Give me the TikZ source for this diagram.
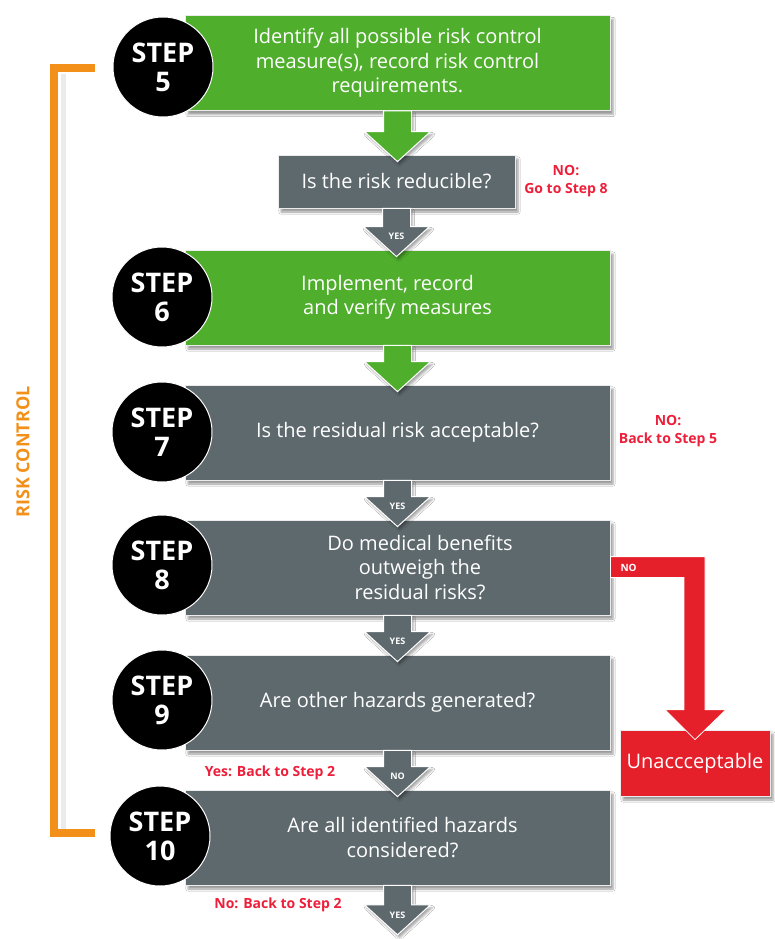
\documentclass[tikz,border=0pt]{standalone}
\usepackage{fontspec}
\setmainfont{Open Sans}
\usetikzlibrary{calc,shadows.blur}
\definecolor{stepgreen}{HTML}{4FAF2C}
\definecolor{stepgrey}{HTML}{5E696E}
\definecolor{alertred}{HTML}{E6202A}
\definecolor{rcorange}{HTML}{F39019}
\definecolor{notered}{HTML}{EE1F3B}
\newcommand{\flowarr}[4]{%
  \coordinate (T) at ($(#1.south |- #2.north)+(0,7)$);
  \filldraw[fill=#3, draw=white, line width=1pt, line join=miter,
    blur shadow={shadow xshift=2pt, shadow yshift=-3pt, shadow opacity=35}]
    ($(#1.south)+(-14,0)$) -- ($(T)+(-14,-30)$) -- ($(T)+(-33,-30)$) -- (T)
    -- ($(T)+(33,-30)$) -- ($(T)+(14,-30)$) -- ($(#1.south)+(14,0)$) -- cycle;
  \node[arrlabel] at ($(T)+(0,-20)$) {#4};
}
\begin{document}
\begin{tikzpicture}[x=1pt,y=-1pt,
  stepbox/.style={rectangle, minimum width=425, minimum height=95, text=white,
    align=center, font=\fontsize{20}{24.5}\selectfont, draw=white!85!gray, line width=0.8pt,
    blur shadow={shadow xshift=3pt, shadow yshift=-4pt, shadow opacity=40}},
  boxtext/.style={text=white, align=center, font=\fontsize{20}{24.5}\selectfont},
  stepcircle/.style={circle, fill=black, draw=white, line width=1pt, minimum size=100,
    inner sep=0pt, text=white, align=center, font=\bfseries\fontsize{27}{29}\selectfont},
  arrlabel/.style={text=white, font=\bfseries\fontsize{9}{10}\selectfont, inner sep=0pt},
  notelabel/.style={text=notered, align=center, font=\bfseries\fontsize{14}{18}\selectfont}
]
\useasboundingbox[fill=white] (0,0) rectangle (775,939);

% orange bracket with faint shadow
\draw[black!8, line width=5pt] (63,74) -- (63,836);
\draw[rcorange, line width=8pt, line cap=butt]
  (95,68) -- (54,68) -- (54,833) -- (95,833);
\node[rotate=90, text=rcorange, font=\bfseries\fontsize{18}{20}\selectfont] (rc) at (23,452) {RISK CONTROL};

% boxes
\node[stepbox, fill=stepgreen] (s5) at (397.5,63) {Identify all possible risk control\\measure(s), record risk control\\requirements.};
\node[stepbox, fill=stepgrey, minimum width=237, minimum height=53] (q5) at (396.5,181.5) {Is the risk reducible?};
\node[stepbox, fill=stepgreen] (s6) at (397.5,297.5) {\hspace*{-20pt}Implement, record\\and verify measures};
\node[stepbox, fill=stepgrey] (s7) at (397.5,432.5) {Is the residual risk acceptable?};
\node[stepbox, fill=stepgrey] (s8) at (397.5,567.5) {};
\node[boxtext] (t8) at (420,567) {Do medical benefits\\outweigh the\\residual risks?};
\node[stepbox, fill=stepgrey] (s9) at (397.5,702.5) {Are other hazards generated?};
\node[stepbox, fill=stepgrey] (s10) at (397.5,837.5) {\hspace*{10pt}Are all identified hazards\\\hspace*{10pt}considered?};
\node[inner sep=0pt, minimum size=0pt] (end) at (397.5,928) {};

% unacceptable
\node[rectangle, fill=alertred, draw=white!85!gray, line width=0.8pt, minimum width=150, minimum height=66,
  text=white, font=\fontsize{20}{22}\selectfont,
  blur shadow={shadow xshift=3pt, shadow yshift=-4pt, shadow opacity=40}] (un) at (695,763) {Unaccceptable};

% red NO arrow
\filldraw[fill=alertred, draw=white, line width=0.8pt]
  ($(s8.north east)+(0,37)$) -- ($(un.north)+(10,-173)$) -- ($(un.north)+(10,-20)$)
  -- ($(un.north)+(31,-20)$) -- ($(un.north)+(0,10)$) -- ($(un.north)+(-30,-20)$)
  -- ($(un.north)+(-11,-20)$) -- ($(un.north)+(-11,-152)$) -- ($(s8.north east)+(0,58)$) -- cycle;
\node[arrlabel, font=\bfseries\fontsize{10}{11}\selectfont, anchor=west] (nolab) at ($(s8.north east)+(10,48)$) {NO};

% vertical arrows
\flowarr{s5}{q5}{stepgreen}{}
\flowarr{q5}{s6}{stepgrey}{YES}
\flowarr{s6}{s7}{stepgreen}{}
\flowarr{s7}{s8}{stepgrey}{YES}
\flowarr{s8}{s9}{stepgrey}{YES}
\flowarr{s9}{s10}{stepgrey}{NO}
\flowarr{s10}{end}{stepgrey}{YES}

% circles
\node[stepcircle] (c5) at (163,67) {STEP\\5};
\node[stepcircle] (c6) at (162,297) {STEP\\6};
\node[stepcircle] (c7) at (162,432) {STEP\\7};
\node[stepcircle] (c8) at (162,565) {STEP\\8};
\node[stepcircle] (c9) at (162,700) {STEP\\9};
\node[stepcircle] (c10) at (160,836) {STEP\\10};

% notes
\node[notelabel] (n1) at (566,181) {NO:\\Go to Step 8};
\node[notelabel] (n2) at (668,431) {NO:\\Back to Step 5};
\node[notelabel] (n3) at (270,773) {Yes: Back to Step 2};
\node[notelabel] (n4) at (278,905) {No: Back to Step 2};
\end{tikzpicture}
\end{document}
